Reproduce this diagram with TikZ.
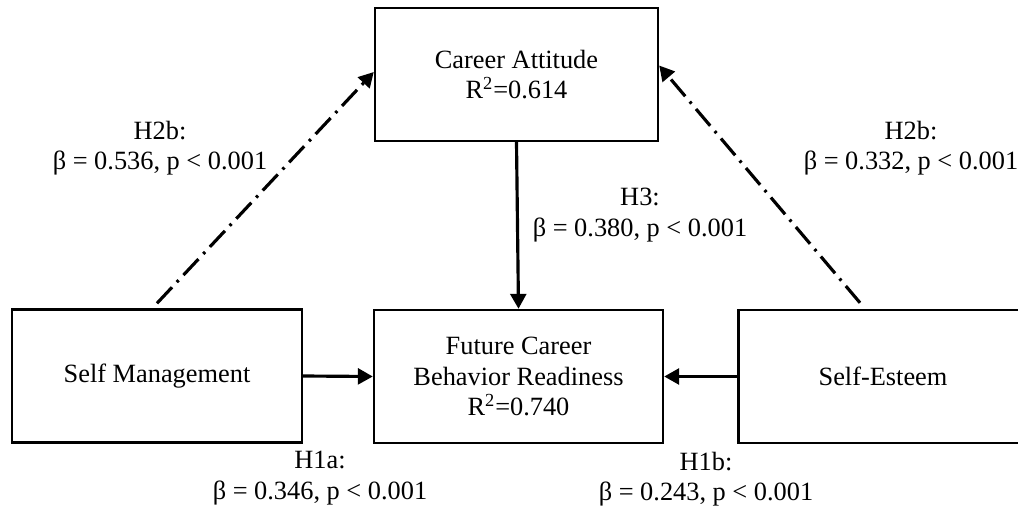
\documentclass[tikz,border=0pt]{standalone}
\usepackage{fontspec}
\setmainfont{Liberation Serif}
\usetikzlibrary{arrows.meta}
\begin{document}
\begin{tikzpicture}[x=0.02cm,y=-0.02cm,font=\fontsize{15}{17.2}\selectfont,
                box/.style={draw,line width=1.4pt,minimum height=2.66cm,align=center},
                lbl/.style={align=center,inner sep=0pt},
                arr/.style={line width=1.8pt,-{Triangle[length=8.5pt,width=9pt]}},
                dotdash/.style={arr,dash pattern=on 12.5pt off 4pt on 1.5pt off 4pt}]
                \useasboundingbox (0,0) rectangle (1018,510);
                \clip (0,0) rectangle (1018,510);
                \node[box,minimum width=5.66cm] (CA) at (516.5,74.5) {Career Attitude\\R\textsuperscript{2}=0.614};
                \node[box,minimum width=5.8cm] (SM) at (157,376) {Self Management};
                \node[box,minimum width=5.78cm] (FC) at (518.5,376.5) {Future Career\\Behavior Readiness\\R\textsuperscript{2}=0.740};
                \node[box,minimum width=5.9cm] (SE) at (886,376.5) {\hspace*{-0.12cm}Self-Esteem};
                \draw[arr] (CA.south) -- (FC.north);
                \draw[arr] (SM.east) -- (FC.west);
                \draw[arr] (SE.west) -- (FC.east);
                \draw[dotdash] ([yshift=0.1cm]SM.north) -- ([yshift=0.05cm]CA.west);
                \draw[dotdash] ([xshift=-0.52cm,yshift=0.12cm]SE.north) -- ([yshift=0.18cm]CA.east);
                \node[lbl] (L2a) at (160,148) {H2b:\\β = 0.536, p < 0.001};
                \node[lbl] (L2b) at (911,148) {H2b:\\β = 0.332, p < 0.001};
                \node[lbl] (L3) at (640,215) {H3:\\β = 0.380, p < 0.001};
                \node[lbl] (L1a) at (320,478) {H1a:\\β = 0.346, p < 0.001};
                \node[lbl] (L1b) at (706,479) {H1b:\\β = 0.243, p < 0.001};
            \end{tikzpicture}
\end{document}
